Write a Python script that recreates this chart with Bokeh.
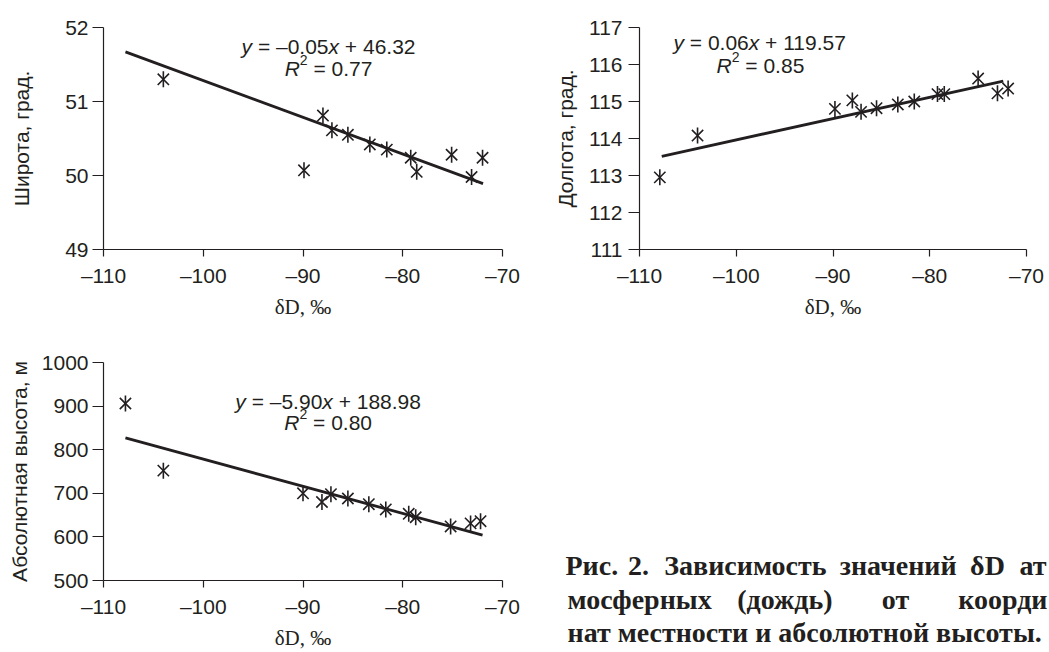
from bokeh.plotting import figure
from bokeh.layouts import column, row
from bokeh.models import Range1d, FixedTicker
from bokeh.core.properties import value
from bokeh.embed import file_html
from bokeh.resources import INLINE

INK = "#231f20"
SANS = "Liberation Sans"
SERIF = "Liberation Serif"

# ---------------- data ----------------
x_ticks = [-110, -100, -90, -80, -70]
lat_ticks = [49, 50, 51, 52]
lon_ticks = [111, 112, 113, 114, 115, 116, 117]
elev_ticks = [500, 600, 700, 800, 900, 1000]

dD_lat = [-104.0, -89.9, -88.0, -87.1, -85.5, -83.3, -81.6, -79.2, -78.6, -75.1, -73.1, -72.0]
lat = [51.30, 50.07, 50.81, 50.61, 50.55, 50.42, 50.35, 50.24, 50.05, 50.28, 49.98, 50.24]

dD_lon = [-107.9, -104.0, -89.8, -88.0, -87.1, -85.5, -83.3, -81.6, -79.2, -78.5, -75.0, -73.0, -71.9]
lon = [112.95, 114.08, 114.80, 115.03, 114.72, 114.82, 114.92, 115.00, 115.20, 115.20, 115.62, 115.22, 115.35]

dD_elev = [-107.8, -104.0, -90.0, -88.1, -87.2, -85.5, -83.4, -81.7, -79.4, -78.7, -75.2, -73.2, -72.2]
elev = [906, 752, 700, 680, 698, 688, 675, 663, 653, 645, 624, 631, 636]

trend_x_lat = [-107.8, -71.95]
trend_lat = [51.67, 49.89]
trend_x_lon = [-107.7, -72.4]
trend_lon = [113.52, 115.55]
trend_x_elev = [-107.8, -72.0]
trend_elev = [827, 604]

eq_lat = ("–0.05", "46.32", "0.77")
eq_lon = ("0.06", "119.57", "0.85")
eq_elev = ("–5.90", "188.98", "0.80")

y_label_lat = "Широта, град."
y_label_lon = "Долгота, град."
y_label_elev = "Абсолютная высота, м"
x_label = "δD, ‰"

caption = ["Рис. 2. Зависимость значений δD ат",
           "мосферных (дождь) от коорди",
           "нат местности и абсолютной высоты."]

# ---------------- helpers ----------------
W = {' ': .278, '=': .584, '–': .556, '.': .278, '+': .584, 'y': .5, 'x': .5, 'R': .722}


def tw(s, sz):
    return sum(W.get(c, .556) for c in s) * sz


def draw_segments(p, x, y, segs):
    total = sum(tw(s, sz) for s, _, _, sz in segs)
    off = -total / 2
    for s, ital, dy, sz in segs:
        if s.strip():
            p.text(x=[x], y=[y], text=[s], x_offset=off, y_offset=dy,
                   text_font=value(SANS), text_font_size=f"{sz}px",
                   text_font_style="italic" if ital else "normal",
                   text_color=INK, text_align="left", text_baseline="alphabetic")
        off += tw(s, sz)


def equation(p, cx, y1, y2, eq, sz=21):
    slope, icpt, r2 = eq
    draw_segments(p, cx, y1, [("y", True, 0, sz), (" ", False, 0, sz),
                              ("= " + slope, False, 0, sz), ("x", True, 0, sz),
                              (" ", False, 0, sz), ("+ " + icpt, False, 0, sz)])
    draw_segments(p, cx, y2, [("R", True, 0, sz), ("2", False, -0.42 * sz, round(sz * 0.68)),
                              (" ", False, 0, sz), ("= " + r2, False, 0, sz)])


def make(width, height, yr, yticks, ylab, mb, y_standoff, y_lab_standoff):
    left, right, top, bottom = mb
    p = figure(width=width, height=height, x_range=Range1d(-110, -70), y_range=Range1d(*yr),
               output_backend="svg", toolbar_location=None,
               min_border_left=left, min_border_right=right,
               min_border_top=top, min_border_bottom=bottom)
    p.outline_line_color = None
    p.grid.visible = False
    p.xaxis.ticker = FixedTicker(ticks=x_ticks)
    p.xaxis.major_label_overrides = {t: str(t).replace("-", "–") for t in x_ticks}
    p.yaxis.ticker = FixedTicker(ticks=yticks)
    p.axis.minor_tick_line_color = None
    p.axis.major_tick_in = 0
    p.xaxis.major_tick_out = 7
    p.yaxis.major_tick_out = 11
    p.axis.axis_line_color = INK
    p.axis.axis_line_width = 1.2
    p.axis.major_tick_line_color = INK
    p.axis.major_tick_line_width = 1.2
    p.axis.major_label_text_font = SANS
    p.axis.major_label_text_font_size = "21px"
    p.axis.major_label_text_color = INK
    p.xaxis.major_label_standoff = 7
    p.yaxis.major_label_standoff = y_standoff
    p.axis.axis_label_text_font_style = "normal"
    p.axis.axis_label_text_color = INK
    p.xaxis.axis_label = x_label
    p.xaxis.axis_label_text_font = SERIF
    p.xaxis.axis_label_text_font_size = "21px"
    p.xaxis.axis_label_standoff = 5
    p.yaxis.axis_label = ylab
    p.yaxis.axis_label_text_font = SANS
    p.yaxis.axis_label_text_font_size = "21px"
    p.yaxis.axis_label_standoff = y_lab_standoff
    return p


def points(p, xs, ys):
    p.scatter(xs, ys, marker="x", size=16, line_color=INK, line_width=1.6)
    p.scatter(xs, ys, marker="dash", angle=1.5708, size=16, line_color=INK, line_width=1.6)


# ---------------- plots ----------------
p1 = make(540, 330, (49, 52), lat_ticks, y_label_lat, (103, 38, 23, 81), 4, 29)
p1.line(trend_x_lat, trend_lat, line_color=INK, line_width=2.8)
points(p1, dD_lat, lat)
equation(p1, -87.44, 51.75, 51.44, eq_lat)

p2 = make(509, 330, (111, 117), lon_ticks, y_label_lon, (99, 23, 27, 81), 6, 9)
p2.line(trend_x_lon, trend_lon, line_color=INK, line_width=2.8)
points(p2, dD_lon, lon)
equation(p2, -97.5, 116.60, 115.97, eq_lon)

p3 = make(540, 322, (500, 1000), elev_ticks, y_label_elev, (103, 38, 32, 64), 4, 8)
p3.line(trend_x_elev, trend_elev, line_color=INK, line_width=2.8)
points(p3, dD_elev, elev)
equation(p3, -87.48, 911.6, 861.7, eq_elev)

# ---------------- caption panel ----------------
# Ranges chosen so that data units equal window pixels (panel sits at x=540, y=330)
pc = figure(width=509, height=322, x_range=Range1d(540, 1049), y_range=Range1d(652, 330),
            output_backend="svg", toolbar_location=None, min_border=0,
            x_axis_location=None, y_axis_location=None)
pc.outline_line_color = None
pc.grid.visible = False
for fig in (pc, p3):
    try:
        fig.frame_align = False
    except Exception:
        pass

CAP_SZ = 28
# approximate rendered widths (px) of the caption words at 28px bold serif
WORD_W = {"Рис.": 45, "2.": 19, "Зависимость": 158, "значений": 113, "δD": 33, "ат": 26,
          "мосферных": 119, "(дождь)": 94, "от": 28, "коорди": 87}


def cap_text(x, y, s, align="left"):
    pc.text(x=[x], y=[y], text=[s], text_font=value(SERIF), text_font_style="bold",
            text_font_size=f"{CAP_SZ}px", text_color=INK, text_align=align,
            text_baseline="alphabetic")


def justified(s, x0, x1, y):
    words = s.split(" ")
    widths = [WORD_W[w] for w in words]
    gap = (x1 - x0 - sum(widths)) / (len(words) - 1)
    x = x0
    for i, (w, wd) in enumerate(zip(words, widths)):
        if i == len(words) - 1:
            cap_text(x1, y, w, "right")
        else:
            cap_text(x, y, w)
        x += wd + gap


cap_y = [565, 599, 632]
justified(caption[0], 565, 1046, cap_y[0])
justified(caption[1], 567, 1047, cap_y[1])
cap_text(567, cap_y[2], caption[2])

layout = column(row(p1, p2), row(p3, pc))
open("out.html", "w").write(file_html(layout, INLINE))
